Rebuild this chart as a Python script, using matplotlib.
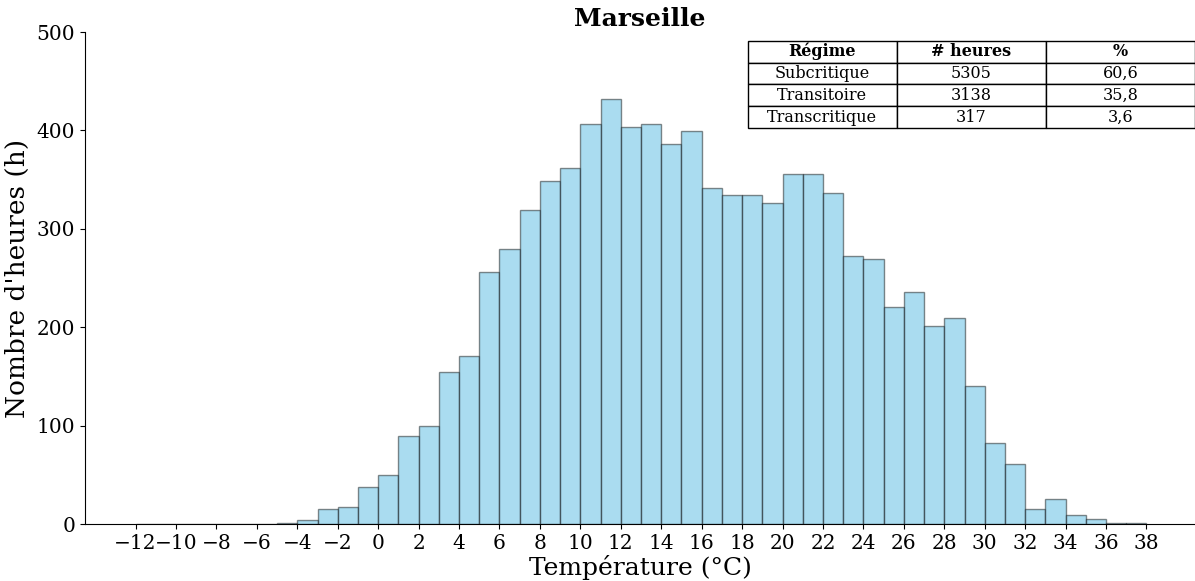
import numpy as np
import matplotlib
matplotlib.use("Agg")
from matplotlib import pyplot as plt

plt.rcParams['font.family'] = ['DejaVu Serif']

# histogram bins (1 degC wide) and hours per bin
bin_edges = np.arange(-12, 39, 1)
hours = [0, 0, 0, 0, 0, 0, 0, 1, 4, 15, 17, 38,
         50, 89, 100, 154, 171, 256, 279, 319, 349, 362,
         406, 432, 403, 406, 386, 399, 341, 334, 334, 326,
         356, 356, 336, 272, 269, 221, 236, 201, 209, 140,
         82, 61, 15, 25, 9, 5, 1, 1, 0]
hours = hours[:len(bin_edges) - 1]

table_cols = ["Régime", "# heures", "%"]
regimes = ["Subcritique", "Transitoire", "Transcritique"]
nb_heures = ["5305", "3138", "317"]
pourcent = ["60,6", "35,8", "3,6"]

fig = plt.figure(figsize=(11.95, 5.81), dpi=100)
ax = fig.add_axes([85 / 1195, 57 / 581, 1110 / 1195, 492 / 581])

ax.bar(bin_edges[:-1], hours, width=1, align='edge',
       color=(0.529, 0.808, 0.922, 0.7),
       edgecolor=(0, 0, 0, 0.45), linewidth=1)

ax.set_xticks(np.arange(-12, 39, 2))
ax.set_xlim(-14.5, 40.4)
ax.set_ylim(0, 500)
ax.tick_params(labelsize=14.5)
ax.spines['top'].set_visible(False)
ax.spines['right'].set_visible(False)
ax.set_xlabel("Température (°C)", fontsize=18, labelpad=2)
ax.set_ylabel("Nombre d'heures (h)", fontsize=19, labelpad=5)
ax.set_title("Marseille", fontsize=18, fontweight='bold', pad=4)

cells = [[r, n, p] for r, n, p in zip(regimes, nb_heures, pourcent)]
tab = ax.table(cellText=cells, colLabels=table_cols, cellLoc='center',
               bbox=[0.597, 0.805, 0.403, 0.177])
tab.auto_set_font_size(False)
tab.set_fontsize(11.5)
for (r, c), cell in tab.get_celld().items():
    if r == 0:
        cell.set_text_props(fontweight='bold')

fig.savefig("out.png", dpi=100)
